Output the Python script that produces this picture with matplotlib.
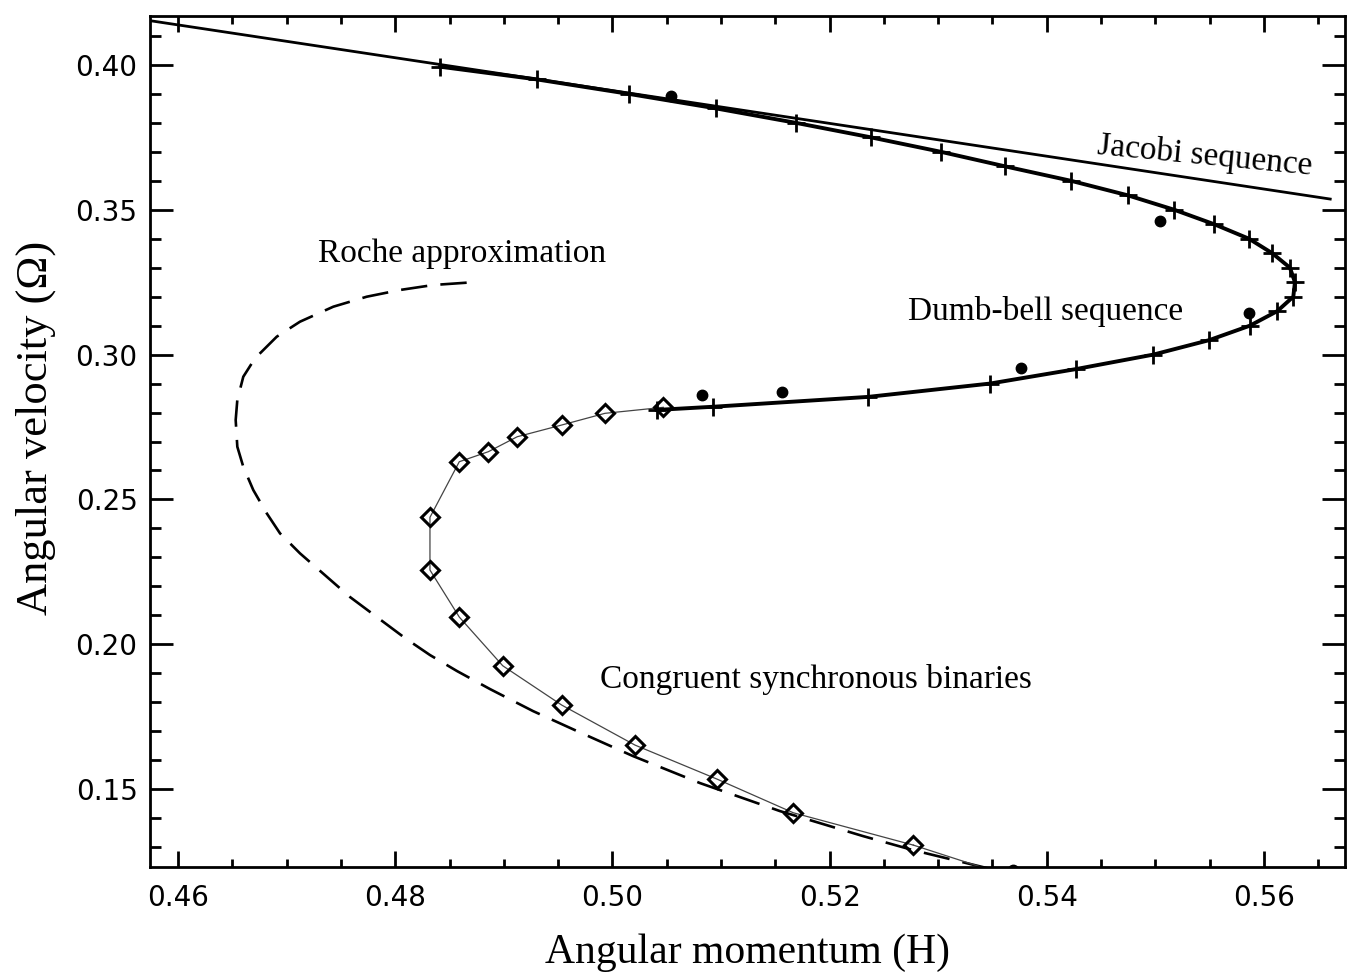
import matplotlib
matplotlib.use('Agg')
import matplotlib.pyplot as plt
from matplotlib.ticker import MultipleLocator, FixedLocator, FormatStrFormatter

# ---------------- data ----------------
jacobi_H = [0.4574, 0.5661]
jacobi_W = [0.4153, 0.3537]

dumbbell_H = [0.48413, 0.49306, 0.50153, 0.50954, 0.51691, 0.52381, 0.53026,
              0.53615, 0.54223, 0.54745, 0.55174, 0.55542, 0.55862, 0.56076,
              0.56239, 0.56285, 0.56270, 0.56122, 0.55871, 0.55496, 0.54981,
              0.54269, 0.53477, 0.52354, 0.50929, 0.50408]
dumbbell_W = [0.3994, 0.3950, 0.3900, 0.3850, 0.3800, 0.3750, 0.3700,
              0.3650, 0.3600, 0.3550, 0.3500, 0.3450, 0.3400, 0.3350,
              0.3300, 0.3250, 0.3200, 0.3150, 0.3100, 0.3050, 0.3000,
              0.2950, 0.2900, 0.2854, 0.2820, 0.2809]

dots_H = [0.50540, 0.55042, 0.55862, 0.53760, 0.50822, 0.51559, 0.53690]
dots_W = [0.38930, 0.34624, 0.31426, 0.29527, 0.28605, 0.28698, 0.12220]

syn_H = [0.50469, 0.49932, 0.49533, 0.49124, 0.48857, 0.48590, 0.48320,
         0.48320, 0.48590, 0.48990, 0.49533, 0.50208, 0.50963, 0.51666,
         0.52771]
syn_W = [0.28180, 0.27973, 0.27569, 0.27165, 0.26647, 0.26302, 0.24382,
         0.22562, 0.20939, 0.19258, 0.17901, 0.16519, 0.15345, 0.14182,
         0.13066]
syn_tail_H = [0.52771, 0.53650]
syn_tail_W = [0.13066, 0.12000]

roche_H = [0.48658, 0.48351, 0.48044, 0.47738, 0.47430, 0.47123, 0.46909,
           0.46709, 0.46601, 0.46546, 0.46531, 0.46546, 0.46601, 0.46693,
           0.46817, 0.46939, 0.47123, 0.47584, 0.48090, 0.48320, 0.48569,
           0.48873, 0.49269, 0.49674, 0.50190, 0.50807, 0.51543, 0.52308,
           0.52768, 0.53431, 0.53569]
roche_W = [0.32483, 0.32403, 0.32231, 0.31999, 0.31654, 0.31136, 0.30618,
           0.29872, 0.29236, 0.28432, 0.27741, 0.26820, 0.26129, 0.25325,
           0.24520, 0.23830, 0.23139, 0.21630, 0.20215, 0.19628, 0.19075,
           0.18453, 0.17693, 0.17003, 0.16139, 0.15207, 0.14240, 0.13377,
           0.12893, 0.12289, 0.12168]

x_ticks = [0.46, 0.48, 0.50, 0.52, 0.54, 0.56]
y_ticks = [0.15, 0.20, 0.25, 0.30, 0.35, 0.40]

# ---------------- figure ----------------
fig = plt.figure(figsize=(13.48, 9.77), dpi=100)
ax = fig.add_axes([150/1348, 1-867/977, 1195/1348, 851/977])

ax.plot(jacobi_H, jacobi_W, color='black', lw=2.0, zorder=3)
ax.plot(roche_H, roche_W, color='black', lw=1.9, dashes=(10, 5), zorder=2)
ax.plot(syn_tail_H, syn_tail_W, color='#444444', lw=0.9, zorder=2)
ax.plot(syn_H, syn_W, color='#444444', lw=0.9, marker='D', ms=9.5,
        mfc='none', mec='black', mew=2.2, zorder=4)
ax.plot(dumbbell_H, dumbbell_W, color='black', lw=2.8, marker='+', ms=13,
        mew=2.0, zorder=5)
ax.plot(dots_H, dots_W, linestyle='none', marker='o', ms=7.5, color='black',
        zorder=6)

ax.set_xlim(0.45742, 0.56746)
ax.set_ylim(0.1231, 0.4169)

ax.xaxis.set_major_locator(FixedLocator(x_ticks))
ax.yaxis.set_major_locator(FixedLocator(y_ticks))
ax.xaxis.set_minor_locator(MultipleLocator(0.005))
ax.yaxis.set_minor_locator(MultipleLocator(0.01))
ax.xaxis.set_major_formatter(FormatStrFormatter('%.2f'))
ax.yaxis.set_major_formatter(FormatStrFormatter('%.2f'))

ax.tick_params(axis='both', which='both', direction='in', top=True,
               right=True, width=2.0, labelsize=20, colors='black')
ax.tick_params(axis='x', which='major', length=11.5, pad=12)
ax.tick_params(axis='x', which='minor', length=5.8)
ax.tick_params(axis='y', which='major', length=16.5, pad=9)
ax.tick_params(axis='y', which='minor', length=8)
for s in ax.spines.values():
    s.set_linewidth(2.0)

serif = ['Liberation Serif', 'DejaVu Serif']
ax.set_xlabel('Angular momentum (H)', family=serif, fontsize=30, labelpad=16)
ax.set_ylabel('Angular velocity (\u03a9)', family=serif, fontsize=32, labelpad=14)
ax.yaxis.label.set_y(0.516)

ax.text(0.47289, 0.33198, 'Roche approximation', family=serif, fontsize=24,
        ha='left', va='baseline')
ax.text(0.52722, 0.31195, 'Dumb-bell sequence', family=serif, fontsize=24,
        ha='left', va='baseline')
ax.text(0.49886, 0.18487, 'Congruent synchronous binaries', family=serif,
        fontsize=24, ha='left', va='baseline')
ax.text(0.54462, 0.36935, 'Jacobi sequence', family=serif, fontsize=24,
        ha='left', va='baseline', rotation=-5.5, rotation_mode='anchor')

fig.savefig('out.png', dpi=100)
